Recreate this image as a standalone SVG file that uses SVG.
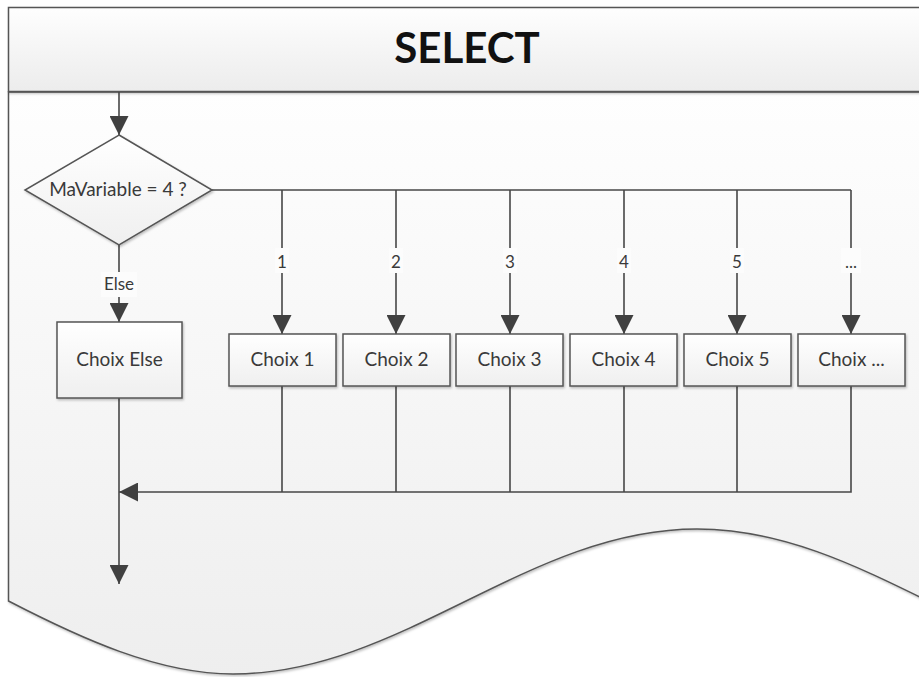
<svg xmlns="http://www.w3.org/2000/svg" width="919" height="677" viewBox="0 0 919 677">
  <defs>
    <linearGradient id="gBody" x1="0" y1="0" x2="0" y2="1">
      <stop offset="0" stop-color="#fefefe"/>
      <stop offset="1" stop-color="#eeeeee"/>
    </linearGradient>
    <linearGradient id="gHead" x1="0" y1="0" x2="0" y2="1">
      <stop offset="0" stop-color="#fefefe"/>
      <stop offset="1" stop-color="#ececec"/>
    </linearGradient>
    <linearGradient id="gBox" x1="0" y1="0" x2="0" y2="1">
      <stop offset="0" stop-color="#ffffff"/>
      <stop offset="1" stop-color="#efefef"/>
    </linearGradient>
    <filter id="shadow" x="-10%" y="-10%" width="120%" height="130%">
      <feDropShadow dx="1" dy="1.5" stdDeviation="1" flood-color="#000" flood-opacity="0.25"/>
    </filter>
    <marker id="arrow" viewBox="0 0 10 10" refX="10" refY="5" markerWidth="19" markerHeight="19" markerUnits="userSpaceOnUse" orient="auto">
      <path d="M0,0 L10,5 L0,10 z" fill="#404040"/>
    </marker>
  </defs>
  <style>
    .shape { stroke: #555555; stroke-width: 1.5; }
    .box { fill: url(#gBox); stroke: #555555; stroke-width: 1.5; filter: url(#shadow); }
    .conn { fill: none; stroke: #474747; stroke-width: 1.6; }
    .txt { font-family: Lato, "Open Sans", sans-serif; font-size: 19px; fill: #3a3a3a; text-anchor: middle; }
    .lbl { font-family: Lato, "Open Sans", sans-serif; font-size: 17px; fill: #3a3a3a; text-anchor: middle; }
    .lblbg { fill: #fcfcfc; }
    .title { font-family: Lato, "Open Sans", sans-serif; font-size: 42px; font-weight: bold; fill: #111111; text-anchor: middle; }
  </style>

  <rect width="919" height="677" fill="#ffffff"/>

  <g id="frame">
    <path class="shape" fill="url(#gBody)" filter="url(#shadow)" d="M8.5,92 L8.5,601 C80,638 158,674 233,674 C402,674 528,529 697,529 C866,529 992,674 1161,674 L1161,92 Z"/>
    <rect class="shape" fill="url(#gHead)" filter="url(#shadow)" x="8.5" y="7.5" width="1000" height="84"/>
    <text class="title" x="467" y="63">SELECT</text>
  </g>

  <g id="connectors">
    <path class="conn" marker-end="url(#arrow)" d="M119,92 V135"/>
    <path class="conn" marker-end="url(#arrow)" d="M119,245 V322"/>
    <path class="conn" d="M212,190 H851"/>
    <path class="conn" marker-end="url(#arrow)" d="M282,190 V334"/>
    <path class="conn" marker-end="url(#arrow)" d="M396,190 V334"/>
    <path class="conn" marker-end="url(#arrow)" d="M510,190 V334"/>
    <path class="conn" marker-end="url(#arrow)" d="M624,190 V334"/>
    <path class="conn" marker-end="url(#arrow)" d="M737,190 V334"/>
    <path class="conn" marker-end="url(#arrow)" d="M851,190 V334"/>
    <path class="conn" d="M282,386 V492"/>
    <path class="conn" d="M396,386 V492"/>
    <path class="conn" d="M510,386 V492"/>
    <path class="conn" d="M624,386 V492"/>
    <path class="conn" d="M737,386 V492"/>
    <path class="conn" marker-end="url(#arrow)" d="M851,386 V492 H119"/>
    <path class="conn" marker-end="url(#arrow)" d="M119,398 V584"/>
    <rect class="lblbg" x="101" y="272" width="36" height="25"/>
    <text class="lbl" x="119" y="290">Else</text>
    <rect class="lblbg" x="275" y="248" width="14" height="25"/>
    <text class="lbl" x="282" y="268">1</text>
    <rect class="lblbg" x="389" y="248" width="14" height="25"/>
    <text class="lbl" x="396" y="268">2</text>
    <rect class="lblbg" x="503" y="248" width="14" height="25"/>
    <text class="lbl" x="510" y="268">3</text>
    <rect class="lblbg" x="617" y="248" width="14" height="25"/>
    <text class="lbl" x="624" y="268">4</text>
    <rect class="lblbg" x="730" y="248" width="14" height="25"/>
    <text class="lbl" x="737" y="268">5</text>
    <rect class="lblbg" x="841" y="248" width="20" height="25"/>
    <text class="lbl" x="851" y="268">...</text>
  </g>

  <g id="decision">
    <path class="box" d="M119,135 L212,190 L119,245 L25,190 Z"/>
    <text class="txt" x="118" y="196">MaVariable = 4 ?</text>
  </g>
  <g id="choix-else">
    <rect class="box" x="57" y="322" width="125" height="76"/>
    <text class="txt" x="119.5" y="366">Choix Else</text>
  </g>
  <g id="choix-1">
    <rect class="box" x="229" y="334" width="107" height="52"/>
    <text class="txt" x="282.5" y="366">Choix 1</text>
  </g>
  <g id="choix-2">
    <rect class="box" x="343" y="334" width="107" height="52"/>
    <text class="txt" x="396.5" y="366">Choix 2</text>
  </g>
  <g id="choix-3">
    <rect class="box" x="456" y="334" width="107" height="52"/>
    <text class="txt" x="509.5" y="366">Choix 3</text>
  </g>
  <g id="choix-4">
    <rect class="box" x="570" y="334" width="107" height="52"/>
    <text class="txt" x="623.5" y="366">Choix 4</text>
  </g>
  <g id="choix-5">
    <rect class="box" x="684" y="334" width="107" height="52"/>
    <text class="txt" x="737.5" y="366">Choix 5</text>
  </g>
  <g id="choix-more">
    <rect class="box" x="798" y="334" width="107" height="52"/>
    <text class="txt" x="851.5" y="366">Choix ...</text>
  </g>
</svg>
